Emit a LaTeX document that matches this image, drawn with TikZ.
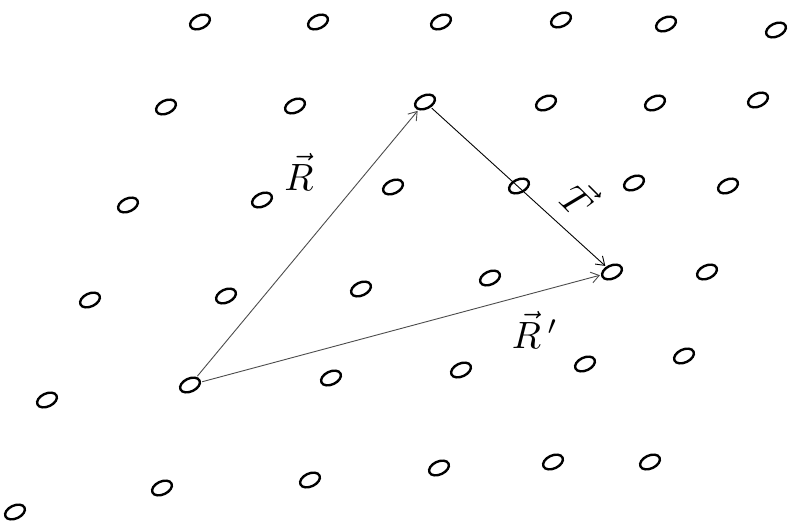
\documentclass[tikz,border=0pt]{standalone}
\usepackage{amsmath}
\usepackage{tikz}
\usetikzlibrary{shapes.geometric,arrows.meta}

\tikzset{
  site/.style={draw,ellipse,line width=2.4pt,minimum width=21pt,minimum height=13pt,inner sep=0pt,rotate=25},
  vec/.style={-{Straight Barb[length=8pt,width=11pt]},line width=0.9pt,shorten <=1pt,shorten >=1pt},
  lbl/.style={scale=3.8}
}

\begin{document}
\begin{tikzpicture}[x=1pt,y=-1pt]
\useasboundingbox (0,0) rectangle (788,525);
% row 1
\node[site] (A1) at (200,22) {};
\node[site] (A2) at (318,22) {};
\node[site] (A3) at (441,22) {};
\node[site] (A4) at (561,20) {};
\node[site] (A5) at (666,24) {};
\node[site] (A6) at (776,30) {};
% row 2
\node[site] (B1) at (166,107) {};
\node[site] (B2) at (295,106) {};
\node[site] (P) at (425,102) {};
\node[site] (B4) at (546,103) {};
\node[site] (B5) at (655,103) {};
\node[site] (B6) at (758,100) {};
% row 3
\node[site] (C1) at (128,205) {};
\node[site] (C2) at (262,200) {};
\node[site] (C3) at (393,187) {};
\node[site] (C4) at (519,186) {};
\node[site] (C5) at (634,183) {};
\node[site] (C6) at (728,186) {};
% row 4
\node[site] (D1) at (90,300) {};
\node[site] (D2) at (226,296) {};
\node[site] (D3) at (361,289) {};
\node[site] (D4) at (490,278) {};
\node[site] (Q) at (612,272) {};
\node[site] (D6) at (707,272) {};
% row 5
\node[site] (E1) at (47,400) {};
\node[site] (O) at (190,385) {};
\node[site] (E3) at (331,378) {};
\node[site] (E4) at (461,370) {};
\node[site] (E5) at (585,364) {};
\node[site] (E6) at (684,356) {};
% row 6
\node[site] (F1) at (15,512) {};
\node[site] (F2) at (162,488) {};
\node[site] (F3) at (310,480) {};
\node[site] (F4) at (439,468) {};
\node[site] (F5) at (553,462) {};
\node[site] (F6) at (650,462) {};

% translation vectors
\draw[vec,gray!60!black] (O)--(P);
\draw[vec] (P)--(Q);
\draw[vec,gray!60!black] (O)--(Q);
\node[lbl] (lR) at (299,172) {$\vec{R}$};
\node[lbl,rotate=-45] (lT) at (580,198) {$\vec{T}$};
\node[lbl] (lRp) at (535,330) {$\vec{R}\,'$};
\end{tikzpicture}
\end{document}
